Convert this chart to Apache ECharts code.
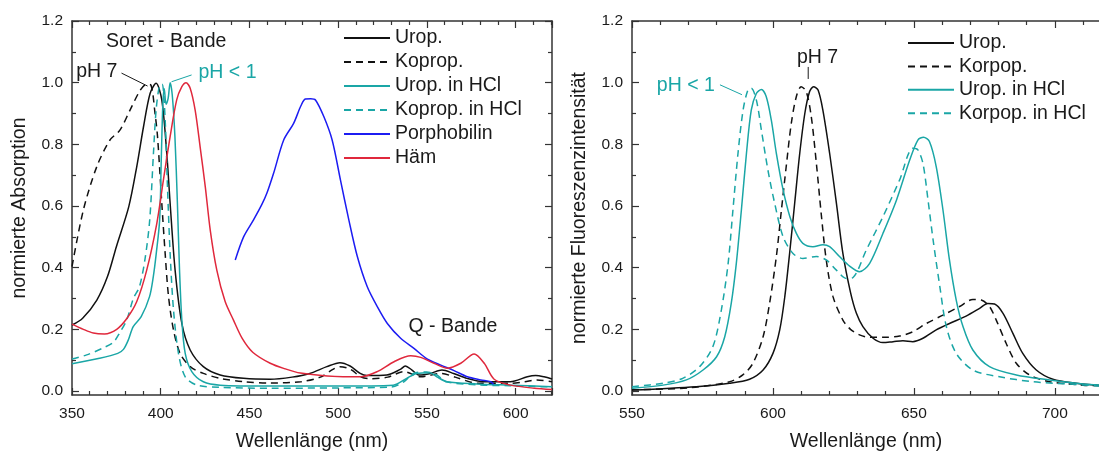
<!DOCTYPE html>
<html>
<head>
<meta charset="utf-8">
<script src="https://cdn.jsdelivr.net/npm/echarts@6/dist/echarts.min.js"></script>
<style>
html,body{margin:0;padding:0;background:#fff;}
#c{width:1099px;height:451px;}
</style>
</head>
<body>
<div id="c"></div>
<script>
// ---------- Absorption (left) ----------
const absUrop = [[350,0.214],[356,0.236],[364,0.295],[370,0.371],[375,0.468],[382,0.598],[386.5,0.728],[390.3,0.857],[394,0.965],[397.4,0.998],[400.6,0.944],[403.4,0.771],[405.3,0.609],[408.1,0.392],[411.9,0.219],[416.6,0.133],[424,0.079],[433.5,0.052],[446.7,0.041],[461.7,0.038],[474,0.045],[484,0.057],[493.6,0.079],[501,0.092],[506.7,0.081],[512.4,0.057],[516.2,0.05],[527.4,0.052],[535,0.07],[537.8,0.081],[541.6,0.068],[545.4,0.052],[551.9,0.057],[558.5,0.068],[565,0.057],[572.6,0.041],[582,0.03],[597,0.03],[606.6,0.046],[611.3,0.05],[616,0.046],[620.5,0.039]];
const absKoprop = [[350,0.403],[356.4,0.587],[364,0.728],[371.4,0.814],[377,0.846],[382.7,0.911],[388.4,0.975],[392,0.995],[394.5,0.992],[396.8,0.9],[398.2,0.825],[400.6,0.609],[402.5,0.446],[404.4,0.306],[407.2,0.198],[410.9,0.122],[416.6,0.079],[424,0.057],[433.5,0.041],[446.7,0.03],[461.7,0.026],[479,0.03],[490,0.045],[497,0.07],[501,0.079],[507,0.07],[513,0.045],[518,0.04],[528,0.045],[537,0.063],[546.6,0.046],[558,0.057],[566,0.045],[578.7,0.025],[597,0.025],[605,0.03],[612,0.036],[620.5,0.03]];
const absUropHCl = [[350,0.088],[365.5,0.106],[375.8,0.122],[379,0.135],[381.7,0.165],[384.5,0.209],[389,0.241],[393.7,0.306],[395.8,0.37],[397.5,0.447],[399.4,0.555],[400.3,0.75],[401.2,0.93],[402,0.98],[403,0.93],[404.2,0.95],[405.3,1.0],[406.5,0.96],[408,0.825],[409.4,0.609],[410.6,0.392],[411.9,0.23],[413.8,0.122],[417.5,0.063],[424,0.03],[433.5,0.019],[461.7,0.016],[500,0.016],[531,0.019],[538.6,0.041],[544.3,0.057],[551.8,0.059],[555.6,0.046],[561.3,0.03],[578.2,0.023],[597,0.019],[620.5,0.014]];
const absKopropHCl = [[350,0.104],[358.3,0.117],[367.7,0.14],[373.3,0.158],[376.8,0.188],[380.8,0.23],[384.6,0.3],[388,0.338],[391.2,0.43],[393.8,0.555],[395.9,0.771],[397.4,0.911],[399.3,0.99],[400.8,0.995],[402.5,0.879],[403.8,0.663],[405.3,0.446],[407.2,0.263],[410,0.122],[413.8,0.046],[420.4,0.019],[433.5,0.012],[461.7,0.009],[500,0.01],[530,0.013],[537,0.03],[542.4,0.057],[549.9,0.062],[555.6,0.052],[561,0.03],[578,0.02],[597,0.017],[620.5,0.013]];
const absPorphobilin = [[442,0.425],[446.7,0.5],[452.3,0.555],[457,0.605],[459.8,0.641],[463.6,0.706],[469.3,0.814],[474.9,0.868],[479,0.925],[481.5,0.947],[484.5,0.948],[487.2,0.944],[491.9,0.89],[496.6,0.814],[501.3,0.684],[506,0.555],[510.8,0.436],[516.4,0.338],[522,0.274],[527.7,0.219],[535.2,0.171],[542.7,0.138],[550.3,0.103],[557.8,0.084],[565.3,0.066],[572.8,0.046],[580.4,0.036],[586,0.03],[587.5,0.022]];
const absHaem = [[350,0.217],[356.4,0.2],[362,0.188],[368.3,0.185],[375.2,0.2],[380.9,0.235],[386.5,0.29],[392.1,0.392],[397.8,0.544],[401.5,0.684],[405.3,0.825],[409,0.944],[411.9,0.987],[414.3,1.0],[416.6,0.982],[419.4,0.911],[422.2,0.792],[425.1,0.663],[427.9,0.522],[431.6,0.392],[436.3,0.29],[441,0.23],[446,0.17],[452,0.125],[461.7,0.09],[470,0.072],[478.7,0.058],[493.8,0.049],[512.6,0.046],[522,0.063],[531.5,0.095],[540.9,0.114],[546.5,0.109],[554,0.09],[561.6,0.074],[569.1,0.09],[576.6,0.12],[582.3,0.09],[587.9,0.038],[597.3,0.019],[610.5,0.009],[620.5,0.005]];

// ---------- Fluorescence (right) ----------
const flUrop = [[550,0.003],[572.8,0.014],[584.6,0.025],[591.7,0.038],[596.5,0.068],[600,0.122],[602.4,0.198],[604.2,0.306],[605.9,0.446],[607.7,0.609],[609.5,0.771],[611.3,0.9],[613,0.971],[614.4,0.987],[616,0.976],[617.7,0.911],[620.1,0.771],[622.5,0.609],[624.8,0.446],[627.5,0.32],[629.6,0.252],[631.9,0.209],[635.5,0.171],[639,0.157],[642.6,0.16],[646.1,0.163],[649.6,0.16],[653.2,0.171],[657.9,0.198],[662.6,0.219],[668.5,0.243],[673.3,0.268],[676.2,0.284],[678.6,0.282],[681.6,0.252],[685.1,0.187],[688.6,0.122],[693.4,0.068],[699.3,0.038],[707.5,0.025],[716,0.018]];
const flKorpop = [[550,0.004],[570,0.01],[584.6,0.03],[589.3,0.052],[592.9,0.09],[596.5,0.176],[598.8,0.284],[601.2,0.436],[603,0.587],[604.7,0.728],[606.5,0.868],[608.3,0.955],[610,0.987],[611.8,0.971],[613.6,0.889],[615.4,0.738],[617.1,0.576],[618.9,0.425],[621.3,0.306],[624.8,0.23],[627.5,0.2],[630.7,0.182],[634.3,0.174],[639,0.174],[644.9,0.178],[649.6,0.192],[654.4,0.219],[660.3,0.246],[666.2,0.274],[670.9,0.297],[673.9,0.295],[676.8,0.274],[679.2,0.23],[682.7,0.155],[686.3,0.09],[691,0.052],[698.1,0.03],[710,0.019],[716,0.017]];
const flUropHCl = [[550,0.009],[561,0.019],[569.3,0.036],[575.2,0.068],[580,0.111],[582.9,0.176],[585.2,0.284],[587,0.414],[588.8,0.587],[590.6,0.771],[592.3,0.911],[594.1,0.965],[595.9,0.978],[597.6,0.955],[599.4,0.879],[601.2,0.771],[603.6,0.652],[606,0.565],[608.3,0.511],[610.6,0.479],[614.2,0.468],[617.7,0.474],[620.1,0.468],[623.6,0.436],[627.2,0.405],[630.7,0.387],[634.3,0.414],[639,0.511],[643.8,0.619],[648.5,0.749],[651.4,0.814],[653.4,0.823],[655.5,0.809],[657.9,0.728],[660.3,0.587],[662.6,0.425],[665,0.295],[667.4,0.209],[670.9,0.133],[676.8,0.079],[686.3,0.052],[698.1,0.036],[710,0.023],[716,0.019]];
const flKorpopHCl = [[550,0.014],[561,0.025],[568,0.041],[574,0.079],[578.7,0.144],[581.7,0.263],[584.1,0.414],[585.8,0.587],[587.6,0.771],[589.4,0.911],[591.1,0.976],[592.3,0.982],[594.1,0.944],[595.9,0.846],[598.2,0.717],[600.6,0.609],[603.6,0.5],[607.1,0.446],[610.6,0.43],[615.4,0.436],[618.9,0.425],[622.5,0.392],[626,0.365],[628.4,0.368],[633.1,0.457],[639,0.565],[644.9,0.684],[649.6,0.787],[651.4,0.782],[653.2,0.738],[655,0.619],[656.8,0.49],[659.2,0.338],[661.5,0.209],[665,0.122],[670.9,0.068],[680.4,0.046],[692.2,0.03],[704,0.023],[716,0.016]];

// tick labels
const yMajor = [0, 0.2, 0.4, 0.6, 0.8, 1.0, 1.2];
const yMinor = [0.1, 0.3, 0.5, 0.7, 0.9, 1.1];
const xLabelsLeft = [350, 400, 450, 500, 550, 600];
const xLabelsRight = [550, 600, 650, 700];
const legendLeft = ['Urop.', 'Koprop.', 'Urop. in HCl', 'Koprop. in HCl', 'Porphobilin', 'Häm'];
const legendRight = ['Urop.', 'Korpop.', 'Urop. in HCl', 'Korpop. in HCl'];
// annotations [text, x, y] in data coordinates
const annLeft = [['Soret - Bande', 369.2, 1.132], ['Q - Bande', 539.6, 0.208]];

const BLACK = '#111111', TEAL = '#1aa6a6', BLUE = '#1c1cf2', RED = '#e0283c';
const FONT = '"Liberation Sans", Arial, sans-serif';
const AX = '#333333';

function line(name, data, color, dashed, xi, yi) {
  return {
    type: 'line', name: name, data: data, xAxisIndex: xi, yAxisIndex: yi,
    showSymbol: false, symbol: 'none', smooth: 0.3, clip: true,
    lineStyle: { color: color, width: 1.5, type: dashed ? [7, 5] : 'solid' },
    itemStyle: { color: color }, z: 3
  };
}

function xAx(gi, min, max, pos, labels) {
  return {
    type: 'value', gridIndex: gi, min: min, max: max, interval: 50, position: pos,
    axisLine: { show: true, onZero: false, lineStyle: { color: AX, width: 1.5 } },
    axisTick: { show: true, inside: true, length: 7, lineStyle: { color: AX, width: 1.2 } },
    minorTick: { show: true, splitNumber: 5, length: 4, lineStyle: { color: AX, width: 1.2 } },
    axisLabel: pos === 'bottom' ? { show: true, customValues: labels, fontFamily: FONT, fontSize: 15.5, color: '#1a1a1a', margin: 11 } : { show: false },
    splitLine: { show: false }, minorSplitLine: { show: false },
    name: pos === 'bottom' ? 'Wellenlänge (nm)' : '',
    nameLocation: 'middle', nameGap: 37,
    nameTextStyle: { fontFamily: FONT, fontSize: 19.5, color: '#1a1a1a' }
  };
}
function yAx(gi, pos, minor, labels, name) {
  return {
    type: 'value', gridIndex: gi, min: -0.013, max: 1.2, position: pos,
    axisLine: { show: !minor, onZero: false, lineStyle: { color: AX, width: 1.5 } },
    axisTick: { show: true, inside: true, length: minor ? 4 : 7, customValues: minor ? yMinor : yMajor, lineStyle: { color: AX, width: 1.2 } },
    axisLabel: labels ? { show: true, customValues: yMajor, formatter: v => v.toFixed(1), fontFamily: FONT, fontSize: 15.5, color: '#1a1a1a', margin: 9 } : { show: false },
    splitLine: { show: false },
    name: name || '', nameLocation: 'middle', nameGap: 42, nameRotate: 90,
    nameTextStyle: { fontFamily: FONT, fontSize: 19.5, color: '#1a1a1a' }
  };
}

const legendText = { fontFamily: FONT, fontSize: 19.5, color: '#1a1a1a', lineHeight: 20 };
const chart = echarts.init(document.getElementById('c'), null, { renderer: 'canvas' });
const option = {
  animation: false,
  backgroundColor: '#ffffff',
  grid: [
    { left: 72, top: 21, width: 480, height: 374, outerBoundsMode: 'none', containLabel: false },
    { left: 632, top: 21, width: 468, height: 374, outerBoundsMode: 'none', containLabel: false }
  ],
  xAxis: [
    xAx(0, 350, 620.5, 'bottom', xLabelsLeft), xAx(0, 350, 620.5, 'top'),
    xAx(1, 550, 716, 'bottom', xLabelsRight), xAx(1, 550, 716, 'top')
  ],
  yAxis: [
    yAx(0, 'left', false, true, 'normierte Absorption'), yAx(0, 'left', true, false),
    yAx(0, 'right', false, false), yAx(0, 'right', true, false),
    yAx(1, 'left', false, true, 'normierte Fluoreszenzintensität'), yAx(1, 'left', true, false)
  ],
  legend: [
    { data: legendLeft, orient: 'vertical', left: 343, top: 28, padding: 0, itemWidth: 46, itemHeight: 12, itemGap: 4,
      itemStyle: { opacity: 0 }, textStyle: legendText, selectedMode: false },
    { data: legendRight, orient: 'vertical', left: 907, top: 33, padding: 0, itemWidth: 46, itemHeight: 12, itemGap: 3.4,
      itemStyle: { opacity: 0 }, textStyle: legendText, selectedMode: false }
  ],
  series: [
    line('Urop.', absUrop, BLACK, false, 0, 0),
    line('Koprop.', absKoprop, BLACK, true, 0, 0),
    line('Urop. in HCl', absUropHCl, TEAL, false, 0, 0),
    line('Koprop. in HCl', absKopropHCl, TEAL, true, 0, 0),
    line('Porphobilin', absPorphobilin, BLUE, false, 0, 0),
    line('Häm', absHaem, RED, false, 0, 0),
    line('Urop.', flUrop, BLACK, false, 2, 4),
    line('Korpop.', flKorpop, BLACK, true, 2, 4),
    line('Urop. in HCl', flUropHCl, TEAL, false, 2, 4),
    line('Korpop. in HCl', flKorpopHCl, TEAL, true, 2, 4)
  ]
};
chart.setOption(option);

// annotations placed through the axes' own scales
function P(g, x, y) {
  return g === 0 ? chart.convertToPixel({ xAxisIndex: 0, yAxisIndex: 0 }, [x, y])
                 : chart.convertToPixel({ xAxisIndex: 2, yAxisIndex: 4 }, [x, y]);
}
function txt(g, s, x, y, color, align) {
  const p = P(g, x, y);
  return { type: 'text', x: p[0], y: p[1], z: 10,
    style: { text: s, fill: color, font: '19.5px ' + FONT, align: align || 'left', verticalAlign: 'middle' } };
}
function seg(g, x1, y1, x2, y2, color) {
  const a = P(g, x1, y1), b = P(g, x2, y2);
  return { type: 'line', z: 10, shape: { x1: a[0], y1: a[1], x2: b[0], y2: b[1] },
    style: { stroke: color, lineWidth: 1 } };
}
const g = [];
annLeft.forEach(a => g.push(txt(0, a[0], a[1], a[2], '#1a1a1a')));
g.push(txt(0, 'pH 7', 375.6, 1.035, '#1a1a1a', 'right'));
g.push(seg(0, 377.9, 1.031, 392.6, 0.989, '#1a1a1a'));
g.push(txt(0, 'pH < 1', 421.3, 1.031, TEAL));
g.push(seg(0, 417.4, 1.025, 406.1, 1.003, TEAL));
g.push(txt(1, 'pH 7', 608.5, 1.08, '#1a1a1a'));
g.push(seg(1, 612.5, 1.051, 612.5, 1.012, '#1a1a1a'));
g.push(txt(1, 'pH < 1', 558.8, 0.989, TEAL));
g.push(seg(1, 581.2, 0.993, 589, 0.961, TEAL));
chart.setOption({ graphic: g });
</script>
</body>
</html>
